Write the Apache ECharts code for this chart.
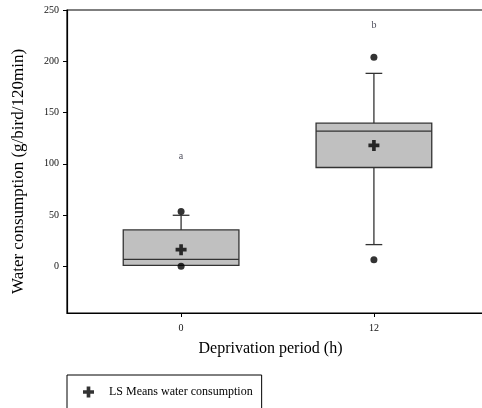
<!DOCTYPE html>
<html>
<head>
<meta charset="utf-8">
<script src="https://cdn.jsdelivr.net/npm/echarts@6/dist/echarts.min.js"></script>
<style>
  html, body { margin: 0; padding: 0; background: #fff; overflow: hidden; }
  #chart { width: 482px; height: 408px; }
</style>
</head>
<body>
<div id="chart"></div>
<script>
// deprivation period groups (h)
const groups = [0, 12];
// box plot statistics
const whiskerLow = [1.0, 21.2];
const q1 = [1.0, 96.4];
const median = [6.8, 131.8];
const q3 = [35.5, 139.6];
const whiskerHigh = [49.8, 188.2];
// LS means (cross markers)
const lsMeans = [16.3, 117.9];
// outlying points [group, value]
const outliers = [[0, 53.4], [0, 0.2], [12, 203.8], [12, 6.5]];
// significance letters
const letters = ["a", "b"];
const letterY = [107.4, 235.4];
const yTicks = [0, 50, 100, 150, 200, 250];

const crossPath =
  "path://M-1,-3L1,-3L1,-1L3,-1L3,1L1,1L1,3L-1,3L-1,1L-3,1L-3,-1L-1,-1Z";
const serif = "Liberation Serif";

const chart = echarts.init(document.getElementById("chart"));

const boxData = groups.map((g, i) => [
  g, whiskerLow[i], q1[i], median[i], q3[i], whiskerHigh[i],
]);

function renderBox(params, api) {
  const x = api.value(0);
  const halfBox = 3.6;
  const halfCap = 0.52;
  const p = (xx, yy) => api.coord([xx, yy]);
  const line = { stroke: "#333", lineWidth: 1.3 };
  const seg = (a, b) => ({
    type: "line",
    shape: { x1: a[0], y1: a[1], x2: b[0], y2: b[1] },
    style: line,
  });
  const lo = api.value(1), b1 = api.value(2), med = api.value(3),
    b3 = api.value(4), hi = api.value(5);
  const tl = p(x - halfBox, b3);
  const br = p(x + halfBox, b1);
  return {
    type: "group",
    children: [
      seg(p(x, b3), p(x, hi)),
      seg(p(x - halfCap, hi), p(x + halfCap, hi)),
      seg(p(x, b1), p(x, lo)),
      seg(p(x - halfCap, lo), p(x + halfCap, lo)),
      {
        type: "rect",
        shape: { x: tl[0], y: tl[1], width: br[0] - tl[0], height: br[1] - tl[1] },
        style: { fill: "#c0c0c0", stroke: "#333", lineWidth: 1.3 },
      },
      seg(p(x - halfBox, med), p(x + halfBox, med)),
    ],
  };
}

chart.setOption({
  animation: false,
  grid: {
    left: 67, top: 10, width: 421, bottom: 95,
    outerBoundsMode: "none",
    containLabel: false,
    show: true, borderColor: "#000", borderWidth: 1.2,
  },
  legend: {
    data: ["LS Means water consumption"],
    left: 67, top: 375,
    orient: "horizontal",
    padding: [11, 9, 30, 16],
    itemWidth: 11, itemHeight: 11,
    itemGap: 4,
    borderColor: "#000", borderWidth: 1,
    borderRadius: 0,
    textStyle: { fontFamily: serif, fontSize: 12, color: "#000", padding: [0, 0, 0, 10] },
  },
  xAxis: {
    type: "value",
    min: -7.1, max: 19.1,
    splitLine: { show: false },
    axisLine: { show: true, onZero: false, lineStyle: { color: "#000", width: 1.2 } },
    axisTick: { show: true, customValues: groups, length: 4, lineStyle: { color: "#000" } },
    axisLabel: {
      customValues: groups, margin: 10,
      fontFamily: serif, fontSize: 10, color: "#111",
    },
    name: "Deprivation period (h)",
    nameLocation: "middle",
    nameGap: 28,
    nameTextStyle: { fontFamily: serif, fontSize: 16, color: "#000", padding: [0, 14, 0, 0] },
  },
  yAxis: {
    type: "value",
    min: -45.5, max: 250,
    splitLine: { show: false },
    axisLine: { show: true, onZero: false, lineStyle: { color: "#000", width: 1.2 } },
    axisTick: { show: true, customValues: yTicks, length: 4, lineStyle: { color: "#000" } },
    axisLabel: {
      customValues: yTicks, margin: 8,
      fontFamily: serif, fontSize: 10, color: "#111",
    },
    name: "Water consumption (g/bird/120min)",
    nameLocation: "middle",
    nameGap: 40,
    nameTextStyle: { fontFamily: serif, fontSize: 17, color: "#000", padding: [0, 20, 0, 0] },
  },
  series: [
    {
      type: "custom",
      renderItem: renderBox,
      data: boxData,
      encode: { x: 0, y: [1, 2, 3, 4, 5] },
      z: 2,
    },
    {
      name: "outliers",
      type: "scatter",
      data: outliers,
      symbol: "circle",
      symbolSize: 7,
      itemStyle: { color: "#000" },
      z: 4,
    },
    {
      name: "LS Means water consumption",
      type: "scatter",
      data: groups.map((g, i) => [g, lsMeans[i]]),
      symbol: crossPath,
      symbolSize: 11,
      itemStyle: { color: "#000" },
      z: 5,
    },
    {
      name: "letters",
      type: "scatter",
      data: groups.map((g, i) => ({ value: [g, letterY[i]], label: { formatter: letters[i] } })),
      symbolSize: 0,
      label: {
        show: true, position: "inside",
        fontFamily: serif, fontSize: 10, color: "#223",
      },
      z: 5,
    },
  ],
});
</script>
</body>
</html>
